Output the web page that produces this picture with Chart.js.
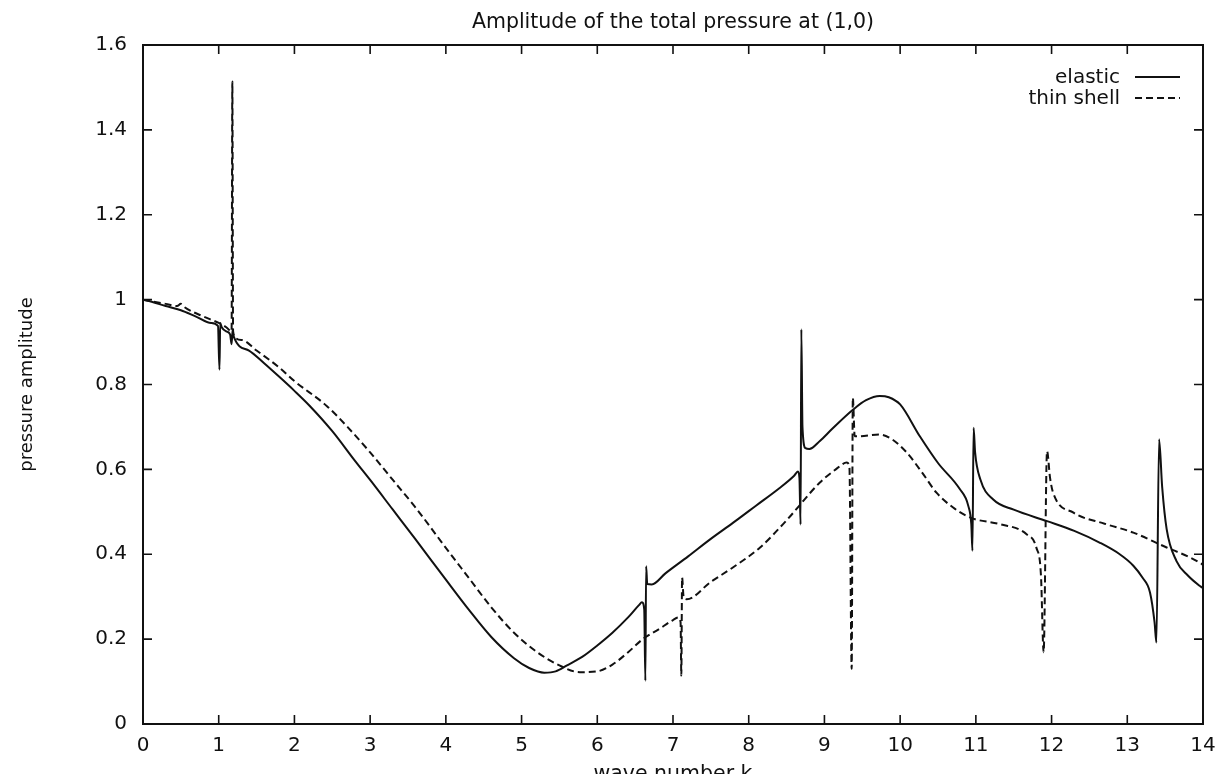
<!DOCTYPE html>
<html>
<head>
<meta charset="utf-8">
<script src="https://cdn.jsdelivr.net/npm/chart.js@4.4.1/dist/chart.umd.min.js"></script>
<style>
  html, body { margin: 0; padding: 0; background: #fff; overflow: hidden; }
  #wrap { width: 1218px; height: 774px; position: relative; }
</style>
</head>
<body>
<div id="wrap"><canvas id="c" width="1218" height="774"></canvas></div>
<script>
// Text
const chartTitle = 'Amplitude of the total pressure at (1,0)';
const xAxisTitle = 'wave number k';
const yAxisTitle = 'pressure amplitude';
const seriesNames = ['elastic', 'thin shell'];

// Tick labels
const xTickLabels = ['0','1','2','3','4','5','6','7','8','9','10','11','12','13','14'];
const yTickLabels = ['0','0.2','0.4','0.6','0.8','1','1.2','1.4','1.6'];

// Elastic model: wave number and pressure amplitude
const elasticK = [
  0.00, 0.05, 0.30, 0.50, 0.70, 0.90, 0.99, 1.01, 1.02, 1.04, 1.10, 1.15, 1.17, 1.185, 1.20,
  1.40, 1.60, 1.80, 2.00, 2.20, 2.50, 2.80, 3.00, 3.30, 3.60, 4.00, 4.30, 4.60, 4.90, 5.10,
  5.30, 5.45, 5.60, 5.80, 6.00, 6.20, 6.40, 6.55, 6.59, 6.62, 6.635, 6.645, 6.66, 6.72, 6.90,
  7.20, 7.49, 7.80, 8.10, 8.40, 8.60, 8.65, 8.67, 8.685, 8.695, 8.71, 8.75, 8.80, 8.94, 9.10,
  9.38, 9.55, 9.73, 9.85, 10.00, 10.26, 10.50, 10.79, 10.90, 10.94, 10.955, 10.97, 10.99, 11.06, 11.23,
  11.50, 11.94, 12.30, 12.64, 12.90, 13.08, 13.20, 13.30, 13.36, 13.385, 13.42, 13.46, 13.52, 13.65, 13.80,
  13.96, 14.00
];
const elasticAmp = [
  1.000, 0.998, 0.985, 0.975, 0.960, 0.945, 0.938, 0.835, 0.945, 0.935, 0.925, 0.918, 0.895, 0.930, 0.912,
  0.880, 0.850, 0.818, 0.785, 0.750, 0.690, 0.620, 0.575, 0.505, 0.435, 0.340, 0.270, 0.205, 0.155, 0.132,
  0.121, 0.124, 0.138, 0.158, 0.185, 0.215, 0.250, 0.280, 0.287, 0.270, 0.102, 0.372, 0.330, 0.329, 0.355,
  0.395, 0.435, 0.475, 0.515, 0.555, 0.585, 0.595, 0.580, 0.470, 0.930, 0.700, 0.650, 0.648, 0.667, 0.695,
  0.741, 0.763, 0.773, 0.770, 0.753, 0.678, 0.615, 0.553, 0.514, 0.470, 0.408, 0.698, 0.640, 0.576, 0.529,
  0.505, 0.478, 0.455, 0.427, 0.400, 0.373, 0.345, 0.310, 0.240, 0.192, 0.671, 0.560, 0.459, 0.384, 0.350,
  0.325, 0.320
];

// Thin shell model: wave number and pressure amplitude
const shellK = [
  0.00, 0.30, 0.45, 0.50, 0.55, 0.80, 1.00, 1.10, 1.17, 1.18, 1.19, 1.30, 1.50, 1.80, 2.00,
  2.43, 2.70, 3.00, 3.30, 3.60, 4.00, 4.30, 4.60, 4.90, 5.20, 5.50, 5.77, 6.00, 6.20, 6.40,
  6.60, 6.64, 6.80, 7.00, 7.07, 7.10, 7.11, 7.12, 7.14, 7.18, 7.50, 7.80, 8.15, 8.50, 8.94,
  9.15, 9.295, 9.33, 9.36, 9.375, 9.40, 9.43, 9.735, 9.90, 10.09, 10.30, 10.48, 10.70, 10.88, 11.00,
  11.32, 11.67, 11.80, 11.86, 11.895, 11.94, 11.98, 12.02, 12.29, 12.70, 13.08, 13.52, 13.80, 13.96, 14.00
];
const shellAmp = [
  1.000, 0.990, 0.985, 0.990, 0.982, 0.960, 0.945, 0.935, 0.925, 1.514, 0.920, 0.905, 0.880, 0.840, 0.808,
  0.749, 0.700, 0.640, 0.575, 0.510, 0.415, 0.345, 0.275, 0.215, 0.170, 0.138, 0.122, 0.124, 0.140, 0.168,
  0.200, 0.205, 0.222, 0.245, 0.251, 0.240, 0.114, 0.345, 0.300, 0.294, 0.335, 0.370, 0.416, 0.480, 0.569,
  0.600, 0.616, 0.605, 0.130, 0.769, 0.678, 0.678, 0.682, 0.670, 0.639, 0.590, 0.545, 0.510, 0.490, 0.482,
  0.471, 0.447, 0.415, 0.350, 0.169, 0.643, 0.580, 0.545, 0.498, 0.472, 0.451, 0.416, 0.395, 0.380, 0.375
];

const FONT = 'DejaVu Sans';
const INK = '#111111';

const toPoints = (xs, ys) => xs.map((k, i) => ({ x: k, y: ys[i] }));

// Frame, inward tick marks on all four sides, title and in-plot key
const framePlugin = {
  id: 'frameAndKey',
  afterDraw(chart) {
    const { ctx, chartArea: a, scales: { x, y } } = chart;
    const tl = 9;
    ctx.save();
    ctx.strokeStyle = INK;
    ctx.lineWidth = 2;
    ctx.strokeRect(a.left, a.top, a.right - a.left, a.bottom - a.top);

    ctx.lineWidth = 1.6;
    ctx.beginPath();
    x.ticks.forEach(t => {
      const px = x.getPixelForValue(t.value);
      ctx.moveTo(px, a.bottom); ctx.lineTo(px, a.bottom - tl);
      ctx.moveTo(px, a.top); ctx.lineTo(px, a.top + tl);
    });
    y.ticks.forEach(t => {
      const py = y.getPixelForValue(t.value);
      ctx.moveTo(a.left, py); ctx.lineTo(a.left + tl, py);
      ctx.moveTo(a.right, py); ctx.lineTo(a.right - tl, py);
    });
    ctx.stroke();

    // title, centred over the plot box
    ctx.fillStyle = INK;
    ctx.font = '20.5px "' + FONT + '"';
    ctx.textAlign = 'center';
    ctx.textBaseline = 'middle';
    ctx.fillText(chartTitle, (a.left + a.right) / 2, 23);

    // key: label right-aligned, sample line to its right
    ctx.font = '20px "' + FONT + '"';
    chart.data.datasets.forEach((ds, i) => {
      const yy = a.top + 33 + i * 21;
      ctx.textAlign = 'right';
      ctx.fillStyle = INK;
      ctx.fillText(ds.label, a.right - 83, yy);
      ctx.strokeStyle = ds.borderColor;
      ctx.lineWidth = ds.borderWidth;
      ctx.setLineDash(ds.borderDash || []);
      ctx.beginPath();
      ctx.moveTo(a.right - 68, yy - 1);
      ctx.lineTo(a.right - 23, yy - 1);
      ctx.stroke();
      ctx.setLineDash([]);
    });
    ctx.restore();
  }
};

new Chart(document.getElementById('c'), {
  type: 'scatter',
  data: {
    datasets: [
      {
        label: seriesNames[0],
        data: toPoints(elasticK, elasticAmp),
        showLine: true,
        borderColor: INK,
        borderWidth: 2,
        pointRadius: 0,
        cubicInterpolationMode: 'monotone'
      },
      {
        label: seriesNames[1],
        data: toPoints(shellK, shellAmp),
        showLine: true,
        borderColor: INK,
        borderWidth: 2,
        borderDash: [7, 4],
        pointRadius: 0,
        cubicInterpolationMode: 'monotone'
      }
    ]
  },
  options: {
    responsive: false,
    animation: false,
    devicePixelRatio: 1,
    layout: { padding: { left: 0, right: 15, top: 45, bottom: 0 } },
    plugins: {
      legend: { display: false },
      title: { display: false },
      tooltip: { enabled: false }
    },
    scales: {
      x: {
        type: 'linear',
        position: 'bottom',
        min: 0,
        max: 14,
        grid: { display: false, drawTicks: false },
        border: { display: false },
        ticks: {
          stepSize: 1,
          autoSkip: false,
          maxRotation: 0,
          padding: 10,
          color: INK,
          font: { family: FONT, size: 20 },
          callback: (v, i) => xTickLabels[i]
        },
        title: {
          display: true,
          text: xAxisTitle,
          color: INK,
          font: { family: FONT, size: 20.5 },
          padding: { top: 0, bottom: -13 }
        },
        afterFit(s) {
          s.height = 50;
          s.paddingLeft = 0;
          s.paddingRight = 0;
        }
      },
      y: {
        type: 'linear',
        position: 'left',
        min: 0,
        max: 1.6,
        grid: { display: false, drawTicks: false },
        border: { display: false },
        ticks: {
          stepSize: 0.2,
          padding: 16,
          color: INK,
          font: { family: FONT, size: 20 },
          callback: (v, i) => yTickLabels[i]
        },
        title: {
          display: true,
          text: yAxisTitle,
          color: INK,
          font: { family: FONT, size: 18 },
          padding: { top: 17, bottom: 0 }
        },
        afterFit(s) {
          s.width = 143;
          s.paddingTop = 0;
          s.paddingBottom = 0;
        }
      }
    }
  },
  plugins: [framePlugin]
});
</script>
</body>
</html>
